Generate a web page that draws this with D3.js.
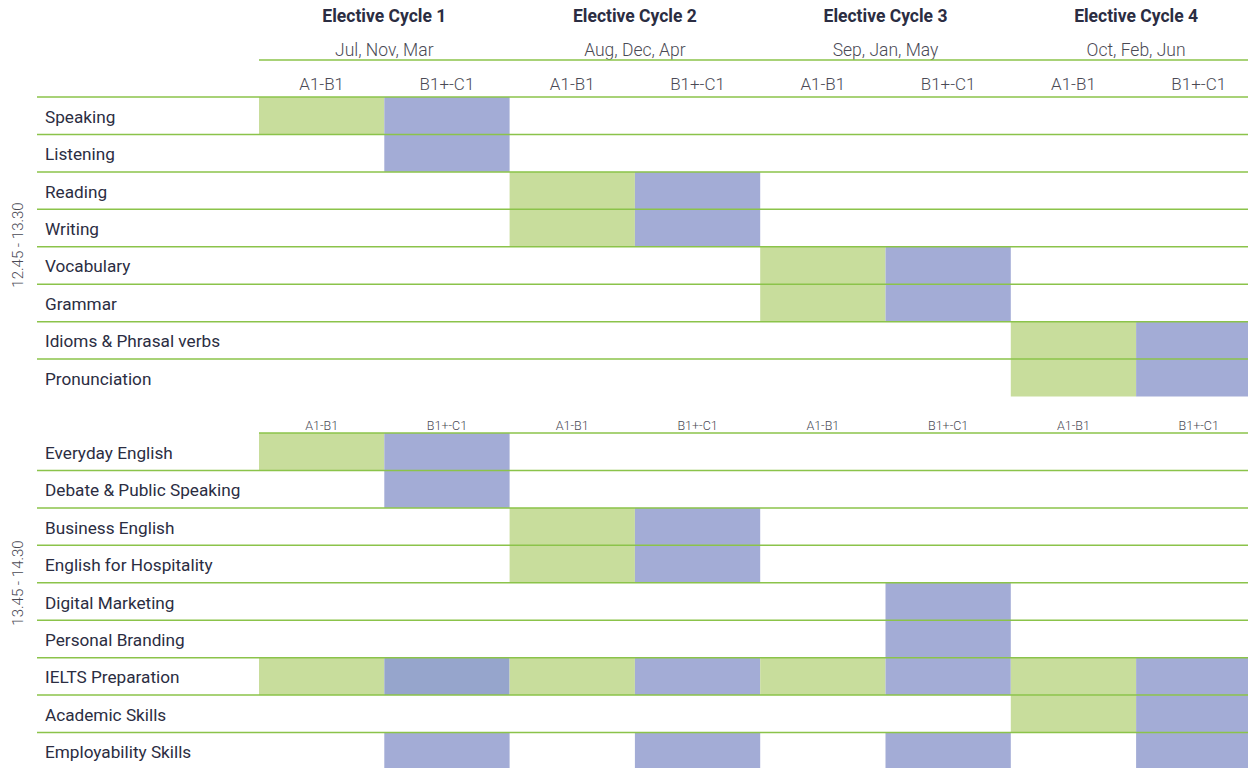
<!DOCTYPE html>
<html>
<head>
<meta charset="utf-8">
<script src="https://cdn.jsdelivr.net/npm/d3@7"></script>
<style>
  body { margin: 0; background: #fff; }
  svg { display: block; font-family: Roboto, sans-serif; }
</style>
</head>
<body>
<script>
// data
var cycles = ["Elective Cycle 1", "Elective Cycle 2", "Elective Cycle 3", "Elective Cycle 4"];
var months = ["Jul, Nov, Mar", "Aug, Dec, Apr", "Sep, Jan, May", "Oct, Feb, Jun"];
var levels = ["A1-B1", "B1+-C1"];
var slots = ["12.45 - 13.30", "13.45 - 14.30"];

var rows1 = ["Speaking", "Listening", "Reading", "Writing", "Vocabulary", "Grammar", "Idioms & Phrasal verbs", "Pronunciation"];
var rows2 = ["Everyday English", "Debate & Public Speaking", "Business English", "English for Hospitality",
             "Digital Marketing", "Personal Branding", "IELTS Preparation", "Academic Skills", "Employability Skills"];

// 0 = empty, 1 = A1-B1 course, 2 = B1+-C1 course, 3 = B1+-C1 (highlighted)
var cells1 = [
  [1, 2, 0, 0, 0, 0, 0, 0],
  [0, 2, 0, 0, 0, 0, 0, 0],
  [0, 0, 1, 2, 0, 0, 0, 0],
  [0, 0, 1, 2, 0, 0, 0, 0],
  [0, 0, 0, 0, 1, 2, 0, 0],
  [0, 0, 0, 0, 1, 2, 0, 0],
  [0, 0, 0, 0, 0, 0, 1, 2],
  [0, 0, 0, 0, 0, 0, 1, 2]
];
var cells2 = [
  [1, 2, 0, 0, 0, 0, 0, 0],
  [0, 2, 0, 0, 0, 0, 0, 0],
  [0, 0, 1, 2, 0, 0, 0, 0],
  [0, 0, 1, 2, 0, 0, 0, 0],
  [0, 0, 0, 0, 0, 2, 0, 0],
  [0, 0, 0, 0, 0, 2, 0, 0],
  [1, 3, 1, 2, 1, 2, 1, 2],
  [0, 0, 0, 0, 0, 0, 1, 2],
  [0, 2, 0, 2, 0, 2, 0, 2]
];

var w = 1248, h = 768;
var fills = { 1: "#c8dd9c", 2: "#a3acd6", 3: "#96a5cc" };
var lineColor = "#8bc34a";
var textColor = "#2b2d42";
var greyText = "#4a4a55";

var svg = d3.select("body").append("svg")
    .attr("width", w)
    .attr("height", h);

var cols = [];
cycles.forEach(function(c, i) {
  levels.forEach(function(l) { cols.push(i + "|" + l); });
});

var x = d3.scaleBand().domain(cols).range([259, 259 + 8 * 125.3]);
var xc = d3.scaleBand().domain(cycles).range([259, 259 + 8 * 125.3]);

var y1 = d3.scaleBand().domain(rows1).range([97, 396.5]);
var y2 = d3.scaleBand().domain(rows2).range([433, 770]);

// header
svg.selectAll("text.cycle")
   .data(cycles)
   .enter()
   .append("text")
   .attr("class", "cycle")
   .attr("x", function(d) { return xc(d) + xc.bandwidth() / 2; })
   .attr("y", 22)
   .attr("text-anchor", "middle")
   .attr("font-size", 17.5)
   .attr("font-weight", "bold")
   .attr("fill", textColor)
   .text(function(d) { return d; });

svg.selectAll("text.month")
   .data(months)
   .enter()
   .append("text")
   .attr("class", "month")
   .attr("x", function(d, i) { return xc(cycles[i]) + xc.bandwidth() / 2; })
   .attr("y", 56)
   .attr("text-anchor", "middle")
   .attr("font-size", 17.5)
   .attr("font-weight", 300)
   .attr("fill", greyText)
   .text(function(d) { return d; });

svg.append("line")
   .attr("x1", 259).attr("x2", w)
   .attr("y1", 60).attr("y2", 60)
   .attr("stroke", lineColor).attr("stroke-width", 1.5);

svg.selectAll("text.level")
   .data(cols)
   .enter()
   .append("text")
   .attr("class", "level")
   .attr("x", function(d) { return x(d) + x.bandwidth() / 2; })
   .attr("y", 90)
   .attr("text-anchor", "middle")
   .attr("font-size", 17)
   .attr("font-weight", 300)
   .attr("fill", greyText)
   .text(function(d) { return d.split("|")[1]; });

svg.selectAll("text.level2")
   .data(cols)
   .enter()
   .append("text")
   .attr("class", "level2")
   .attr("x", function(d) { return x(d) + x.bandwidth() / 2; })
   .attr("y", 430)
   .attr("text-anchor", "middle")
   .attr("font-size", 12.5)
   .attr("font-weight", 300)
   .attr("fill", greyText)
   .text(function(d) { return d.split("|")[1]; });

function section(rows, cells, y, first) {
  var g = svg.append("g");
  rows.forEach(function(r, i) {
    g.selectAll("rect.r" + i)
     .data(cells[i].map(function(v, j) { return { v: v, c: cols[j] }; }).filter(function(d) { return d.v > 0; }))
     .enter()
     .append("rect")
     .attr("x", function(d) { return x(d.c); })
     .attr("y", y(r))
     .attr("width", x.bandwidth())
     .attr("height", y.bandwidth())
     .attr("fill", function(d) { return fills[d.v]; });
  });

  g.selectAll("text.row")
   .data(rows)
   .enter()
   .append("text")
   .attr("x", 45)
   .attr("y", function(d) { return y(d) + y.bandwidth() / 2 + 7; })
   .attr("font-size", 17.2)
   .attr("fill", textColor)
   .text(function(d) { return d; });

  // row lines (top line + line under each row except last)
  var lines = [rows[0]].concat(rows.slice(0, rows.length - 1));
  g.selectAll("line.row")
   .data(lines)
   .enter()
   .append("line")
   .attr("x1", function(d, i) { return (i === 0 && !first) ? 259 : 37; })
   .attr("x2", w)
   .attr("y1", function(d, i) { return i === 0 ? y(d) : y(d) + y.bandwidth(); })
   .attr("y2", function(d, i) { return i === 0 ? y(d) : y(d) + y.bandwidth(); })
   .attr("stroke", lineColor)
   .attr("stroke-width", 1.5);
}

section(rows1, cells1, y1, true);
section(rows2, cells2, y2, false);

// time slot labels
var slotY = [245, 583];
svg.selectAll("text.slot")
   .data(slots)
   .enter()
   .append("text")
   .attr("transform", function(d, i) { return "translate(23," + slotY[i] + ") rotate(-90)"; })
   .attr("text-anchor", "middle")
   .attr("font-size", 15)
   .attr("font-weight", 300)
   .attr("fill", greyText)
   .text(function(d) { return d; });
</script>
</body>
</html>
